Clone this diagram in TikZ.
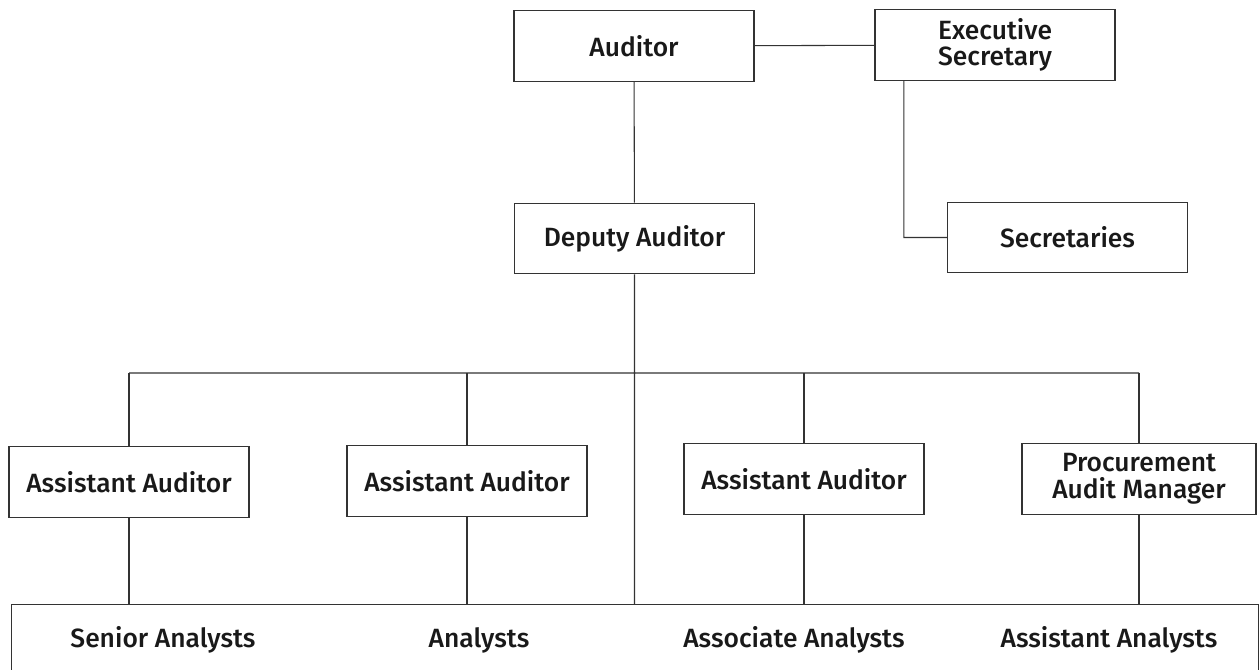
\documentclass[tikz,border=0pt]{standalone}
\usepackage{fontspec}
\setmainfont{Fira Sans}[UprightFont=* Medium]
\usetikzlibrary{positioning}
\begin{document}
\begin{tikzpicture}[x=0.75pt,y=-0.75pt,
  office/.style={draw=black!80,line width=0.8pt,minimum width=180pt,minimum height=53pt,
    inner sep=0pt,align=center,text=black!90,font=\fontsize{19.8}{20}\selectfont},
  staff/.style={text=black!90,font=\fontsize{19.8}{20}\selectfont},
  link/.style={draw=black!80,line width=0.8pt}]
  \useasboundingbox (0,0) rectangle (1260,670);
  \clip (0,0) rectangle (1260,670);
  \node[office] (aud)  at (634,46)    {Auditor};
  \node[office] (exec) at (995,45)    {Executive\\Secretary};
  \node[office] (dep)  at (634.5,238.5) {Deputy Auditor};
  \node[office] (secs) at (1067.5,237.5) {Secretaries};
  \node[office] (aa1)  at (129,482)   {Assistant Auditor};
  \node[office] (aa2)  at (467,481)   {Assistant Auditor};
  \node[office] (aa3)  at (804,479)   {Assistant Auditor};
  \node[office,minimum width=175.5pt] (pam) at (1139,479) {Procurement\\Audit Manager};
  \node[draw=black!80,line width=0.8pt,minimum width=935pt,minimum height=75pt,
    inner sep=0pt,anchor=north west] (pool) at (11,604) {};
  \node[staff] (sen)  at (163,640)  {Senior Analysts};
  \node[staff] (ana)  at (479,640)  {Analysts};
  \node[staff] (asso) at (794,640)  {Associate Analysts};
  \node[staff] (assi) at (1109,640) {Assistant Analysts};
  \coordinate (bus) at (634,373);
  \coordinate (drop) at ([xshift=22pt]exec.south west);
  \path[link] (aud) -- (exec)
    (aud) -- (dep)
    (drop) |- (secs.west)
    (dep.south) -- (dep.south |- pool.north)
    (aa1.north |- bus) -- (pam.north |- bus);
  \foreach \b in {aa1,aa2,aa3,pam}
    \path[link] (\b.north) -- (\b.north |- bus)
      (\b.south) -- (\b.south |- pool.north);
\end{tikzpicture}
\end{document}
